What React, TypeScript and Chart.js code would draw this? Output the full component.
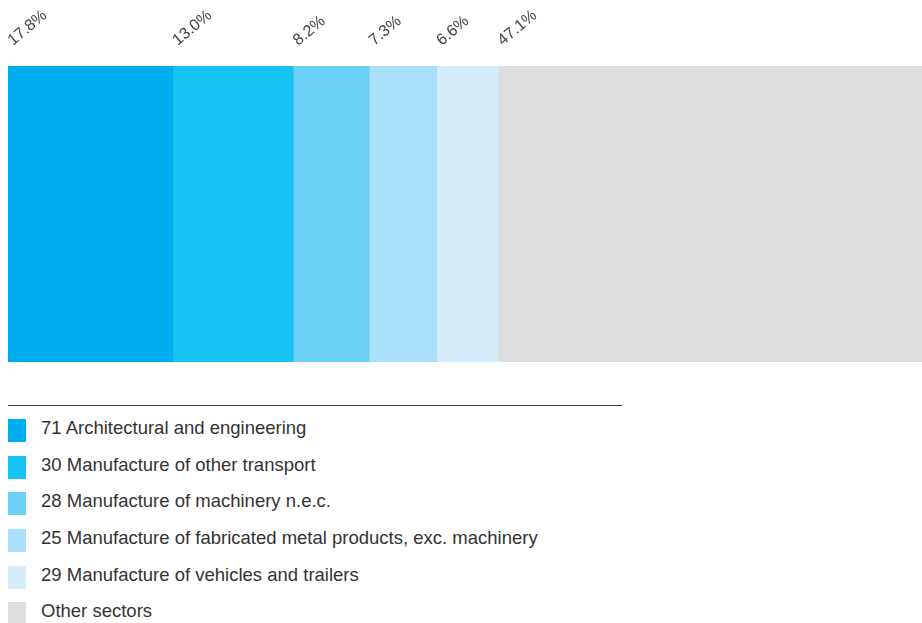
import React, { useEffect, useRef } from "react";
import { Chart, registerables } from "chart.js";

Chart.register(...registerables);

const sectors = [
  "71 Architectural and engineering",
  "30 Manufacture of other transport",
  "28 Manufacture of machinery n.e.c.",
  "25 Manufacture of fabricated metal products, exc. machinery",
  "29 Manufacture of vehicles and trailers",
  "Other sectors",
];
const shares = [17.8, 13.0, 8.2, 7.3, 6.6, 47.1];
const shareLabels = ["17.8%", "13.0%", "8.2%", "7.3%", "6.6%", "47.1%"];
const colors = ["#00aeef", "#17c3f3", "#6dd0f6", "#aae0fa", "#d5edfa", "#dcdddf"];

const labelPlugin = {
  id: "rotLabels",
  afterDatasetsDraw(chart: any) {
    const ctx = chart.ctx;
    const top = chart.chartArea.top;
    ctx.save();
    ctx.font = "16px 'Liberation Sans', Arial, sans-serif";
    ctx.fillStyle = "#444";
    ctx.textAlign = "left";
    ctx.textBaseline = "alphabetic";
    chart.data.datasets.forEach((ds: any, i: number) => {
      const el = chart.getDatasetMeta(i).data[0];
      if (!el) return;
      const left = Math.min(el.base, el.x);
      ctx.save();
      ctx.translate(left + 5, top - 20);
      ctx.rotate((-40 * Math.PI) / 180);
      ctx.fillText(shareLabels[i], 0, 0);
      ctx.restore();
    });
    ctx.restore();
  },
};

export default function App() {
  const ref = useRef<HTMLCanvasElement>(null);
  useEffect(() => {
    if (!ref.current) return;
    const chart = new Chart(ref.current, {
      type: "bar",
      data: {
        labels: ["share"],
        datasets: sectors.map((s, i) => ({
          label: s,
          data: [shares[i]],
          backgroundColor: colors[i],
          borderWidth: 0,
          barPercentage: 1,
          categoryPercentage: 1,
        })),
      },
      options: {
        indexAxis: "y",
        animation: false,
        responsive: true,
        maintainAspectRatio: false,
        layout: { padding: { top: 66, bottom: 8, left: 8, right: 0 } },
        scales: {
          x: { stacked: true, display: false, min: 0, max: 100 },
          y: { stacked: true, display: false },
        },
        plugins: { legend: { display: false }, tooltip: { enabled: false } },
      },
      plugins: [labelPlugin],
    } as any);
    return () => chart.destroy();
  }, []);

  return (
    <div
      style={{
        position: "absolute",
        left: 0,
        top: 0,
        width: 922,
        height: 623,
        overflow: "hidden",
        fontFamily: "'Liberation Sans', Arial, sans-serif",
      }}
    >
      <div style={{ position: "absolute", left: 0, top: 0, width: 934, height: 370 }}>
        <canvas ref={ref} />
      </div>
      <div
        style={{
          position: "absolute",
          left: 8,
          top: 405,
          width: 614,
          borderTop: "1px solid #3c3c3c",
          paddingTop: 13,
        }}
      >
        {sectors.map((s, i) => (
          <div key={s} style={{ display: "flex", height: 36.7 }}>
            <div style={{ width: 18, height: 23, background: colors[i], flex: "none" }} />
            <span
              style={{
                marginLeft: 15,
                fontSize: 18.5,
                color: "#333",
                lineHeight: "23px",
                whiteSpace: "nowrap",
                position: "relative",
                top: -3,
              }}
            >
              {s}
            </span>
          </div>
        ))}
      </div>
    </div>
  );
}
